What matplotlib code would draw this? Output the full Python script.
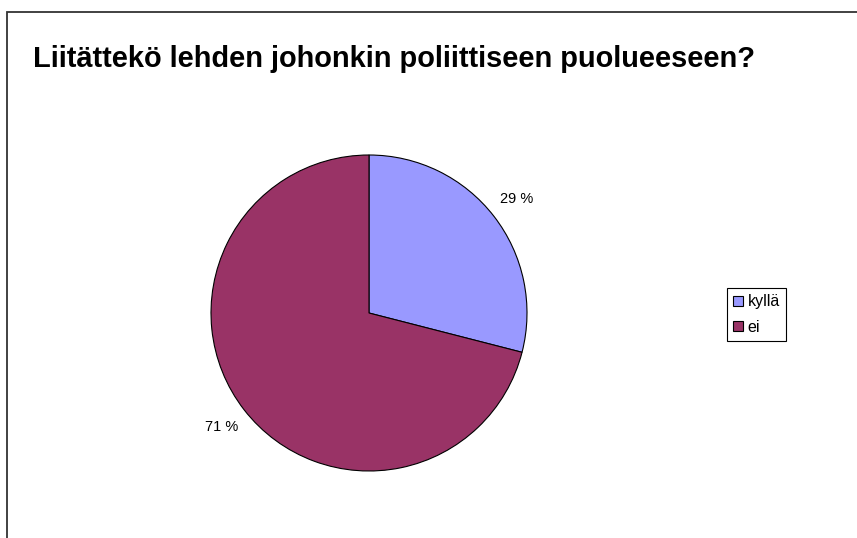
import matplotlib.pyplot as plt
from matplotlib.patches import Rectangle

plt.rcParams['font.family'] = ['Liberation Sans', 'DejaVu Sans']

# Data
labels = ['kyllä', 'ei']
values = [29, 71]
colors = ['#9999FF', '#993366']
title = 'Liitättekö lehden johonkin poliittiseen puolueeseen?'

W, H = 857, 538
fig = plt.figure(figsize=(W / 100, H / 100), dpi=100)

# outer chart frame (cropped on right/bottom)
fig.patches.append(Rectangle((7 / W, -0.1), 1.2, 1.1 - 12 / H, transform=fig.transFigure,
                             fill=False, edgecolor='#333333', linewidth=1.3))

fig.text(33 / W, 1 - 67 / H, title, fontsize=20.9, fontweight='bold', va='baseline', ha='left')

cx, cy, r = 369, 313, 158
ax = fig.add_axes([(cx - r) / W, 1 - (cy + r) / H, 2 * r / W, 2 * r / H])
wedges, texts, autotexts = ax.pie(values, colors=colors, startangle=90, counterclock=False,
                                  autopct='%d %%', pctdistance=1.18,
                                  wedgeprops=dict(edgecolor='black', linewidth=0.8))
for t in autotexts:
    t.set_fontsize(10.5)
ax.set_xlim(-1, 1)
ax.set_ylim(-1, 1)
ax.axis('off')

leg = fig.legend(wedges, labels, loc='upper left', bbox_to_anchor=(727 / W, 1 - 288 / H),
                 borderaxespad=0, fontsize=11.5, fancybox=False, edgecolor='black', framealpha=1,
                 handlelength=0.6, handleheight=0.6, handletextpad=0.3, labelspacing=0.65,
                 borderpad=0.4)
leg.get_frame().set_linewidth(0.8)

fig.savefig('out.png', dpi=100)
